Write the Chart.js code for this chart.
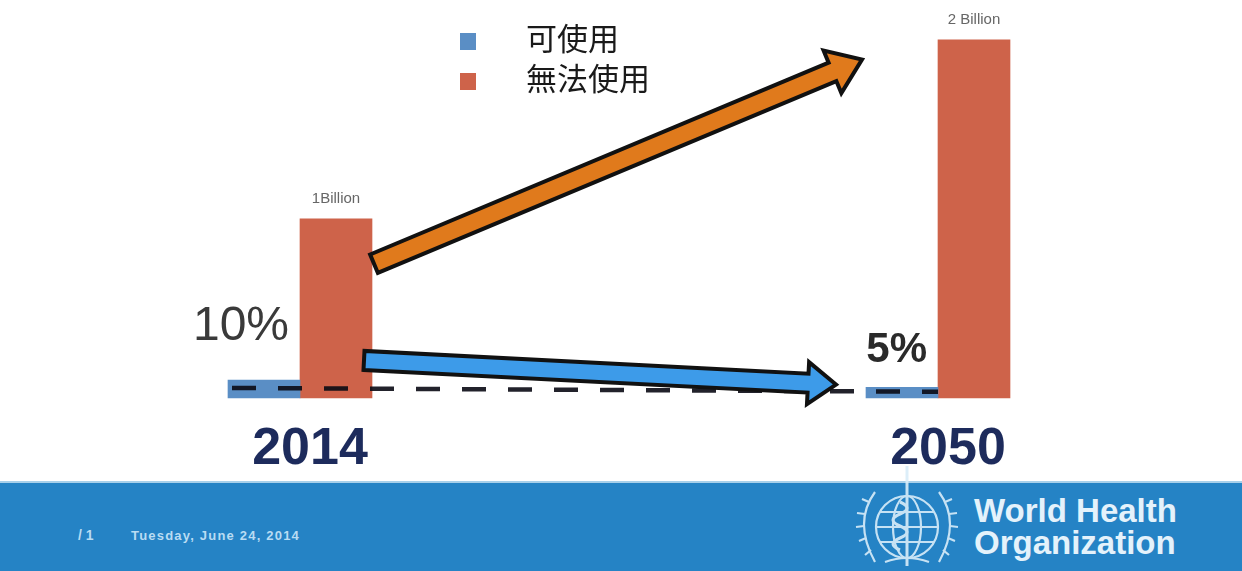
<!DOCTYPE html>
<html>
<head>
<meta charset="utf-8">
<script src="https://cdn.jsdelivr.net/npm/chart.js@4/dist/chart.umd.min.js"></script>
<style>
html,body{margin:0;padding:0;background:#fff;}
#wrap{position:relative;width:1242px;height:571px;overflow:hidden;background:#fff;}
#c{position:absolute;left:0;top:0;}
#footer{position:absolute;left:0;top:481px;width:1242px;height:90px;background:#2583c5;border-top:2px solid #a8d0ea;box-sizing:border-box;}
#pg{position:absolute;left:78px;top:44px;font:bold 14px "Liberation Sans",Arial,sans-serif;color:#b9dcf3;}
#date{position:absolute;left:131px;top:45px;font:bold 13px "Liberation Sans",Arial,sans-serif;color:#b9dcf3;letter-spacing:1.2px;}
#who{position:absolute;left:974px;top:12px;font:bold 33px/32px "Liberation Sans",Arial,sans-serif;color:#e4f2fb;}
#logo{position:absolute;left:845px;top:462px;}
</style>
</head>
<body>
<div id="wrap">
  <canvas id="c" width="1242" height="571"></canvas>
  <div id="footer">
    <div id="pg">/ 1</div>
    <div id="date">Tuesday, June 24, 2014</div>
    <div id="who">World Health<br>Organization</div>
  </div>
  <svg id="logo" width="124" height="109" viewBox="0 0 124 109">
    <g fill="none" stroke="#d9edf9" stroke-width="2.2" opacity="0.9">
      <path d="M30 30 Q8 60 30 100" />
      <path d="M94 30 Q116 60 94 100" />
      <path d="M24 40 l-7 -3 M20 52 l-8 -1 M19 64 l-8 1 M21 76 l-7 3 M26 88 l-6 5" />
      <path d="M100 40 l7 -3 M104 52 l8 -1 M105 64 l8 1 M103 76 l7 3 M98 88 l6 5" />
      <circle cx="62" cy="65" r="31" />
      <ellipse cx="62" cy="65" rx="14" ry="31" />
      <path d="M31 65 H93 M35 50 H89 M35 80 H89" />
      <path d="M62 4 V104" stroke-width="3"/>
      <path d="M55 40 q14 6 0 12 q-14 6 0 12 q14 6 0 12 q-14 6 0 12" stroke-width="3"/>
      <path d="M40 100 Q62 92 84 100" />
    </g>
  </svg>
</div>
<script>
// ---- data ----
const categories = ['2014', '2050'];
const seriesNames = ['可使用', '無法使用'];
const usableValues = [0.1, 0.06];      // billions of people (blue)
const unusableValues = [1.0, 2.0];     // billions of people (orange)
const totalLabels = ['1Billion', '2 Billion'];
const shareLabels = ['10%', '5%'];
// arrow / guide line anchor values (in billions)
const trendUpValues = [0.75, 1.89];
const trendDownValues = [0.21, 0.075];
const baselineGuideValues = [0.056, 0.035];
const yMax = 2.2;

// ---- styles ----
const blueColor = '#5a8ec5';
const orangeColor = '#ce634a';
const shareStyle = [
  {font: 'normal 48px "Liberation Sans", Arial, sans-serif', color: '#3a3a3a', dy: -40},
  {font: 'bold 42px "Liberation Sans", Arial, sans-serif', color: '#2a2a2a', dy: -25}
];

function drawArrow(ctx, x0, y0, x1, y1, w, hw, hl, fill) {
  const dx = x1 - x0, dy = y1 - y0, L = Math.hypot(dx, dy);
  const ux = dx / L, uy = dy / L, nx = -uy, ny = ux;
  const bx = x1 - ux * hl, by = y1 - uy * hl;
  const pts = [
    [x0 + nx * w, y0 + ny * w], [bx + nx * w, by + ny * w], [bx + nx * hw, by + ny * hw],
    [x1, y1], [bx - nx * hw, by - ny * hw], [bx - nx * w, by - ny * w], [x0 - nx * w, y0 - ny * w]
  ];
  ctx.beginPath();
  pts.forEach((p, i) => i ? ctx.lineTo(p[0], p[1]) : ctx.moveTo(p[0], p[1]));
  ctx.closePath();
  ctx.fillStyle = fill;
  ctx.fill();
  ctx.lineWidth = 4;
  ctx.lineJoin = 'miter';
  ctx.strokeStyle = '#111';
  ctx.stroke();
}

const overlay = {
  id: 'overlay',
  afterDatasetsDraw(chart) {
    const {ctx, scales: {x, y}} = chart;
    const mU = chart.getDatasetMeta(0).data;
    const mN = chart.getDatasetMeta(1).data;
    ctx.save();

    // dashed guide line
    ctx.beginPath();
    ctx.setLineDash([24, 22]);
    ctx.lineWidth = 4.5;
    ctx.strokeStyle = 'rgba(10,10,20,0.9)';
    ctx.moveTo(mU[0].x - mU[0].width / 2 + 4, y.getPixelForValue(baselineGuideValues[0]));
    ctx.lineTo(mN[1].x - mN[1].width / 2, y.getPixelForValue(baselineGuideValues[1]));
    ctx.stroke();
    ctx.setLineDash([]);

    // arrows
    drawArrow(ctx, x.getPixelForValue(0) + 74, y.getPixelForValue(trendUpValues[0]),
              x.getPixelForValue(1) - 76, y.getPixelForValue(trendUpValues[1]), 10, 23, 32, '#e07a1c');
    drawArrow(ctx, x.getPixelForValue(0) + 64, y.getPixelForValue(trendDownValues[0]),
              x.getPixelForValue(1) - 102, y.getPixelForValue(trendDownValues[1]), 9.5, 21, 28, '#3d9be9');

    // total labels above orange bars
    ctx.font = '15px "Liberation Sans", Arial, sans-serif';
    ctx.fillStyle = '#666';
    ctx.textAlign = 'center';
    ctx.textBaseline = 'middle';
    mN.forEach((b, i) => ctx.fillText(totalLabels[i], b.x, b.y - 20));

    // share labels
    ctx.textAlign = 'right';
    ctx.textBaseline = 'alphabetic';
    mU.forEach((b, i) => {
      ctx.font = shareStyle[i].font;
      ctx.fillStyle = shareStyle[i].color;
      ctx.fillText(shareLabels[i], mN[i].x - mN[i].width / 2 - 11, b.y + shareStyle[i].dy);
    });

    // legend
    const ds = chart.data.datasets;
    ctx.textAlign = 'left';
    ctx.textBaseline = 'middle';
    ctx.font = '31px "Noto Sans CJK TC", "Noto Sans CJK SC", sans-serif';
    ds.forEach((d, i) => {
      const top = 33 + i * 40;
      ctx.fillStyle = d.backgroundColor;
      ctx.fillRect(460, top, 16, 17);
      ctx.fillStyle = '#1a1a1a';
      ctx.fillText(d.label, 526, top + 5);
    });
    ctx.restore();
  }
};

new Chart(document.getElementById('c'), {
  type: 'bar',
  data: {
    labels: categories,
    datasets: [
      {label: seriesNames[0], data: usableValues, backgroundColor: blueColor, barThickness: 72, clip: false},
      {label: seriesNames[1], data: unusableValues, backgroundColor: orangeColor, barThickness: 72, clip: false}
    ]
  },
  options: {
    responsive: false,
    animation: false,
    layout: {padding: {left: 300, right: 304, top: 4, bottom: 70.6}},
    plugins: {legend: {display: false}, tooltip: {enabled: false}},
    scales: {
      x: {
        offset: false,
        grid: {display: false, drawTicks: false},
        border: {display: false},
        ticks: {
          padding: 20,
          labelOffset: 10,
          color: '#1d2b5c',
          font: {family: '"Liberation Sans", Arial, sans-serif', size: 52, weight: 'bold'}
        }
      },
      y: {display: false, min: 0, max: yMax}
    }
  },
  plugins: [overlay]
});
</script>
</body>
</html>
